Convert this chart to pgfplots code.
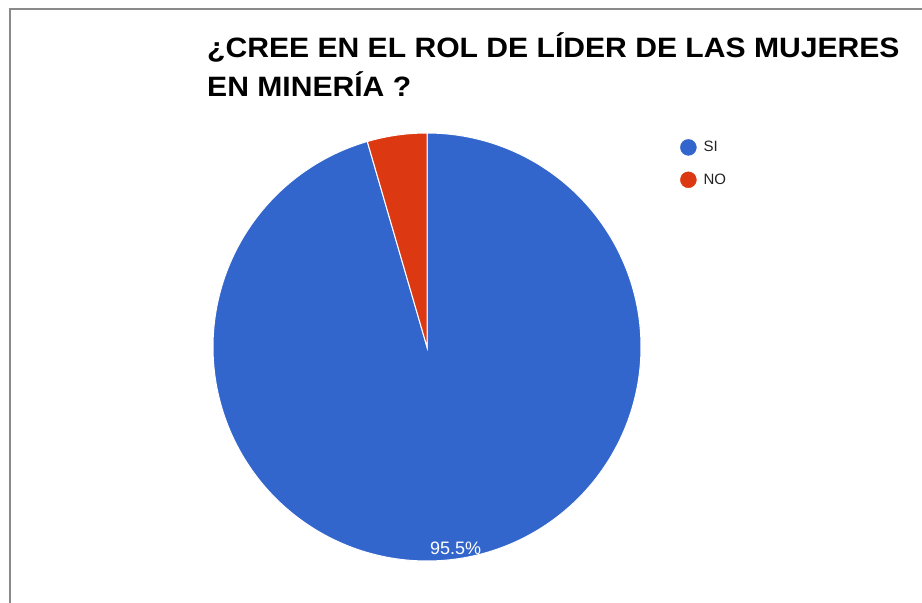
\documentclass[border=0pt]{standalone}
\usepackage{pgfplots}
\usepackage{pgfplotstable}
\pgfplotsset{compat=1.18}
\usepackage{fontspec}
\setmainfont{Liberation Sans}
\definecolor{siblue}{HTML}{3366CC}
\definecolor{nored}{HTML}{DC3912}
\definecolor{frame}{HTML}{8A8A8A}
\definecolor{legtext}{HTML}{222222}

\pgfplotstableread{
label value
SI 95.5
NO 4.5
}\piedata

\begin{document}%
\begin{tikzpicture}[x=1pt,y=1pt]
\pgfplotstablegetelem{0}{value}\of\piedata
\pgfmathsetmacro{\valSI}{\pgfplotsretval}
\pgfplotstablegetelem{1}{value}\of\piedata
\pgfmathsetmacro{\valNO}{\pgfplotsretval}
\pgfmathsetmacro{\endSI}{90-3.6*\valSI}
\pgfmathsetmacro{\startNO}{90}
\pgfmathsetmacro{\endNO}{90+3.6*\valNO}
\pgfmathsetmacro{\midSI}{90-1.8*\valSI}
\draw[frame, line width=2pt] (9.5,0) -- (9.5,593.5) -- (922,593.5);
\node[anchor=base west, font=\fontsize{28}{32}\selectfont\bfseries, inner sep=0pt] at (207,545) {\scalebox{1.075}[1]{¿CREE EN EL ROL DE LÍDER DE LAS MUJERES}};
\node[anchor=base west, font=\fontsize{28}{32}\selectfont\bfseries, inner sep=0pt] at (207,506) {\scalebox{1.075}[1]{EN MINERÍA ?}};
\begin{axis}[
  at={(213pt,42pt)}, anchor=south west,
  width=428pt, height=428pt, scale only axis,
  xmin=-1, xmax=1, ymin=-1, ymax=1,
  hide axis, clip=false,
  legend style={at={(1.0911,0.986)}, anchor=north west, draw=none, fill=none,
    inner xsep=0pt, inner ysep=0pt,
    font=\fontsize{15}{18}\selectfont\color{legtext}, row sep=16pt,
    legend cell align=left},
  legend image code/.code={\fill[#1] (0pt,0pt) circle (8pt); \path (13pt,0pt);},
]
\addplot[forget plot, fill=siblue, draw=white, line width=1pt, domain=\endSI:90, samples=300, variable=\t]
  ({cos(\t)},{sin(\t)}) -- (0,0) -- cycle;
\addplot[forget plot, fill=nored, draw=white, line width=1pt, domain=\startNO:\endNO, samples=30, variable=\t]
  ({cos(\t)},{sin(\t)}) -- (0,0) -- cycle;
\addlegendimage{siblue}
\addlegendentry{SI}
\addlegendimage{nored}
\addlegendentry{NO}
\node[white, font=\fontsize{18}{21}\selectfont] at (axis cs:{0.95*cos(\midSI)},{0.95*sin(\midSI)}) {95.5\%};
\end{axis}
\pgfresetboundingbox
\useasboundingbox (0,0) rectangle (922,603);
\end{tikzpicture}%
\end{document}
